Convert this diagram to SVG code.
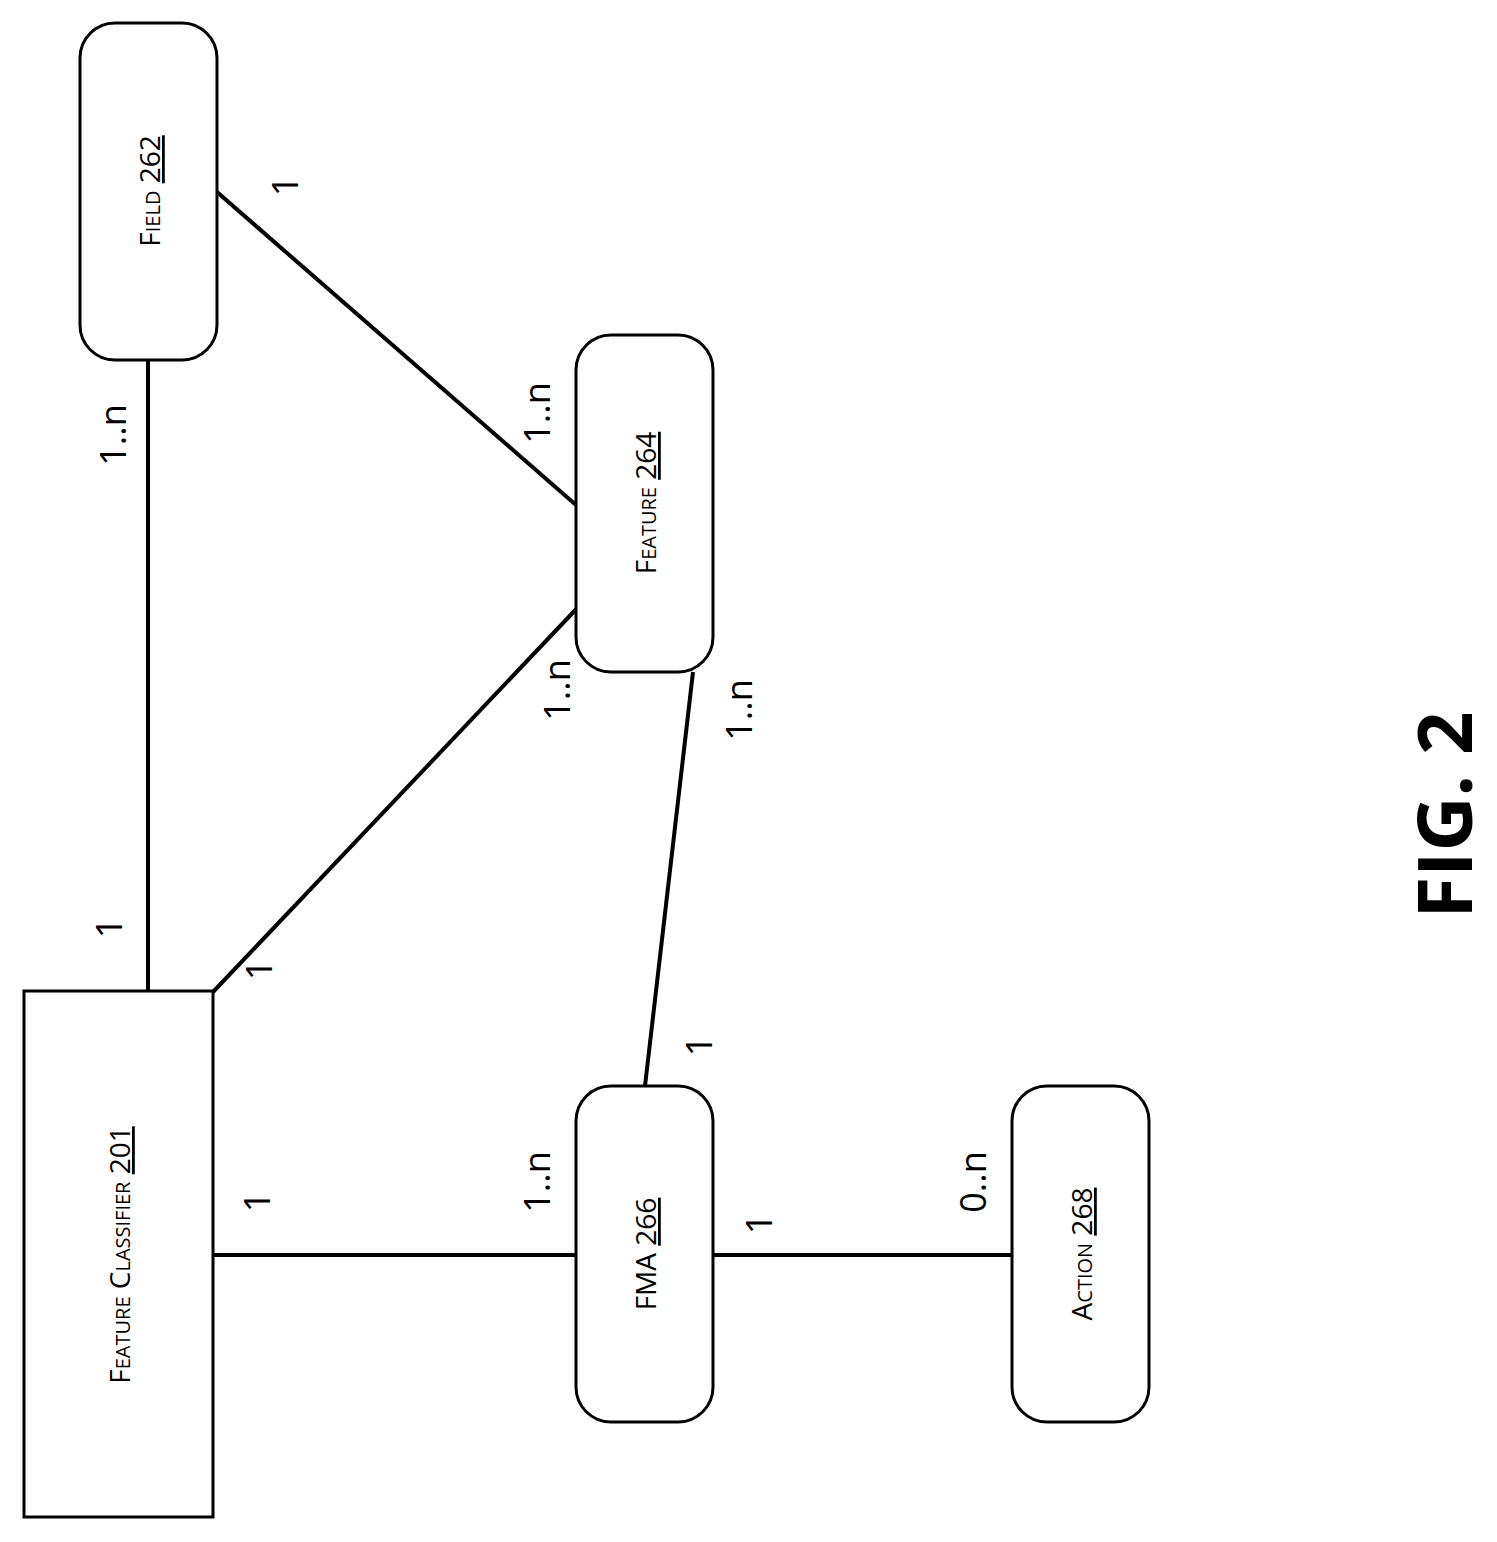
<svg xmlns="http://www.w3.org/2000/svg" width="1497" height="1542" viewBox="0 0 1497 1542">
<style>
.n{fill:#fff;stroke:#000;stroke-width:3}
.t{font-family:"Open Sans","Liberation Sans",sans-serif;font-size:28px;font-variant:small-caps;text-anchor:middle}
.l{font-family:"Open Sans","Liberation Sans",sans-serif;font-size:36px;text-anchor:middle}
.u{text-decoration:underline}
#edges line{stroke:#000;stroke-width:4}
</style>
<rect width="1497" height="1542" fill="#fff"/>
<g id="edges">
<line x1="148" y1="360" x2="148" y2="992"/>
<line x1="217" y1="192" x2="576" y2="505"/>
<line x1="213" y1="992" x2="582" y2="603"/>
<line x1="693" y1="672" x2="645" y2="1086"/>
<line x1="213" y1="1255" x2="576" y2="1255"/>
<line x1="713" y1="1255" x2="1012" y2="1255"/>
</g>
<g id="field"><rect class="n" x="80" y="23" width="137" height="337" rx="35"/><text class="t" transform="translate(160,191) rotate(-90)">Field <tspan class="u">262</tspan></text></g>
<g id="feature"><rect class="n" x="576" y="335" width="137" height="337" rx="35"/><text class="t" transform="translate(656,503) rotate(-90)">Feature <tspan class="u">264</tspan></text></g>
<g id="classifier"><rect class="n" x="24" y="991" width="189" height="526"/><text class="t" transform="translate(130,1255) rotate(-90)">Feature Classifier <tspan class="u">201</tspan></text></g>
<g id="fma"><rect class="n" x="576" y="1086" width="137" height="336" rx="35"/><text class="t" transform="translate(656,1254) rotate(-90)">FMA <tspan class="u">266</tspan></text></g>
<g id="action"><rect class="n" x="1012" y="1086" width="137" height="336" rx="35"/><text class="t" transform="translate(1092,1254) rotate(-90)">Action <tspan class="u">268</tspan></text></g>
<g id="labels">
<text class="l" transform="translate(298,186) rotate(-90)">1</text>
<text class="l" transform="translate(126,435) rotate(-90)">1..n</text>
<text class="l" transform="translate(550,413) rotate(-90)">1..n</text>
<text class="l" transform="translate(122,928) rotate(-90)">1</text>
<text class="l" transform="translate(272,970) rotate(-90)">1</text>
<text class="l" transform="translate(570,690) rotate(-90)">1..n</text>
<text class="l" transform="translate(752,710) rotate(-90)">1..n</text>
<text class="l" transform="translate(712,1046) rotate(-90)">1</text>
<text class="l" transform="translate(270,1202) rotate(-90)">1</text>
<text class="l" transform="translate(550,1182) rotate(-90)">1..n</text>
<text class="l" transform="translate(772,1224) rotate(-90)">1</text>
<text class="l" transform="translate(986,1182) rotate(-90)">0..n</text>
<text transform="translate(1472,815) rotate(-90)" font-family="Open Sans,Liberation Sans,sans-serif" font-size="76" font-weight="bold" text-anchor="middle">FIG. 2</text>
</g>
</svg>
